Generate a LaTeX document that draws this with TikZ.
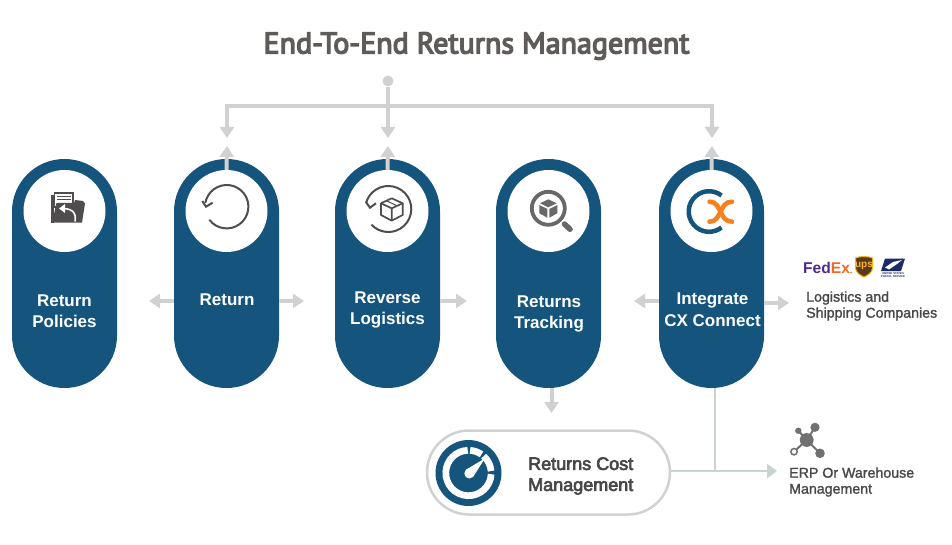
\documentclass[tikz,border=0pt]{standalone}
\usepackage{fontspec}
\usepackage{tikz}
\usetikzlibrary{arrows.meta}
\setmainfont{Liberation Sans}
\newfontfamily\titlefont[FakeBold=4.5]{PT Sans}
\newfontfamily\medfont[FakeBold=3.5]{Liberation Sans}
\newfontfamily\sidefont[FakeBold=1.5]{Liberation Sans}
\definecolor{pillblue}{HTML}{14547D}
\definecolor{flowgray}{HTML}{D0D1D3}
\definecolor{joingray}{HTML}{C9D3D1}
\definecolor{icongray}{HTML}{4F4D4E}
\definecolor{textgray}{HTML}{484748}
\definecolor{titlegray}{HTML}{5F5B59}
\definecolor{cxorange}{HTML}{F5821F}
\definecolor{fedpurple}{HTML}{4D2A8C}
\definecolor{fedorange}{HTML}{F26A21}
\definecolor{upsbrown}{HTML}{5A3A1E}
\definecolor{upsgold}{HTML}{F7B513}
\definecolor{uspsblue}{HTML}{1B2A6B}
\tikzset{
  pill/.style={fill=pillblue,minimum width=105pt,minimum height=229pt,rounded corners=52.4pt,inner sep=0pt},
  iconcirc/.style={circle,fill=white,minimum size=82pt,inner sep=0pt},
  pilltext/.style={text=white,align=center,font=\fontsize{17}{21.5}\selectfont\bfseries},
  sidetext/.style={text=textgray,align=left,anchor=west,inner sep=0pt,font=\fontsize{14.2}{16}\selectfont\sidefont},
  flow/.style={draw=flowgray,line width=4pt,-{Triangle[length=11pt,width=14pt]}},
  icon/.style={draw=icongray,line width=2pt}
}
\begin{document}
\begin{tikzpicture}[x=1pt,y=1pt,yscale=-1]
  \useasboundingbox (0,0) rectangle (952,545);
  \node[text=titlegray,font=\fontsize{30}{36}\selectfont\titlefont] (title) at (476.5,46) {End-To-End Returns Management};

  % pills
  \node[pill] (pol) at (64.5,273.5) {};
  \node[pill] (ret) at (226.5,273.5) {};
  \node[pill] (rev) at (387.5,273.5) {};
  \node[pill] (trk) at (548.5,273.5) {};
  \node[pill] (cx) at (711.5,273.5) {};
  \node[iconcirc] (polc) at (64.5,211) {};
  \node[iconcirc] (retc) at (226.5,211) {};
  \node[iconcirc] (revc) at (387.5,211) {};
  \node[iconcirc] (trkc) at (548.5,211) {};
  \node[iconcirc] (cxc) at (711.5,211) {};
  \node[pilltext] (poll) at (64.5,311) {Return\\Policies};
  \node[pilltext] (retl) at (227,300) {Return};
  \node[pilltext] (revl) at (387.5,310) {Reverse\\Logistics};
  \node[pilltext] (trkl) at (549,314) {Returns\\Tracking};
  \node[pilltext] (cxl) at (712.5,309.5) {Integrate\\CX Connect};

  % cost box
  \node[draw=flowgray,line width=2.5pt,fill=white,minimum width=243pt,minimum height=84pt,rounded corners=42pt,inner sep=0pt] (cost) at (548.5,472.5) {};
  \node[text=textgray,align=left,anchor=west,inner sep=0pt,font=\fontsize{18}{21}\selectfont\medfont] (costl) at (528,476) {Returns Cost\\Management};
  \node[sidetext] (logl) at (806,306) {Logistics and\\Shipping Companies};
  \node[sidetext] (erpl) at (789,482) {ERP Or Warehouse\\Management};

  % connectors
  \node[circle,fill=flowgray,minimum size=11pt,inner sep=0pt] (top) at (388,81) {};
  \coordinate (bus) at (388,106);
  \coordinate (retin) at (227,138);
  \coordinate (revin) at (388,138);
  \coordinate (cxin) at (712,138);
  \draw[flow] (bus) -| (retin);
  \draw[flow] (bus) -| (cxin);
  \draw[flow] (top) -- (revin);
  \coordinate (retup) at (227,146);
  \coordinate (revup) at (388,146);
  \coordinate (cxup) at (712,146);
  \draw[flow] (retc.north) -- (retup);
  \draw[flow] (revc.north) -- (revup);
  \draw[flow] (cxc.north) -- (cxup);
  \coordinate (retw) at (149,301);
  \coordinate (rete) at (304,301);
  \coordinate (reve) at (467,301);
  \coordinate (cxw) at (634,301);
  \coordinate (cxe) at (789,303);
  \coordinate (trks) at (551.5,413);
  \coordinate (erpin) at (777,471);
  \coordinate (join) at (715,471);
  \draw[flow] (ret.west |- retw) -- (retw);
  \draw[flow] (ret.east |- rete) -- (rete);
  \draw[flow] (rev.east |- reve) -- (reve);
  \draw[flow] (cx.west |- cxw) -- (cxw);
  \draw[flow] (cx.east |- cxe) -- (cxe);
  \draw[flow] (trk.south -| trks) -- (trks);
  \draw[draw=joingray,line width=2.5pt] (cx.south -| join) -- (join);
  \draw[draw=joingray,line width=2.5pt,-{Triangle[length=10pt,width=14pt,fill=flowgray]}] (cost.east |- erpin) -- (erpin);

  % folder
  \fill[icongray] (50.5,195) rectangle (54,222.7);
  \draw[icon,line width=1.4pt,fill=white] (54.5,193) rectangle (73,207);
  \draw[icon,line width=1.1pt] (57,196.5) -- (71,196.5) (57,199.5) -- (71,199.5);
  \fill[icongray] (56.5,203) -- (74,203) -- (75,200) -- (83,201) -- (85,203.5) -- (82,222.7) -- (52,222.7) -- cycle;
  \draw[white,line width=1.6pt] (75,221.5) .. controls (77,211) and (70,208.5) .. (62,208.5);
  \fill[white] (59,208.5) -- (65,204) -- (65,213) -- cycle;

  % return
  \draw[icon] (226.7,206.7) ++(143:21.7) arc[start angle=143,end angle=-170,radius=21.7pt];
  \draw[icon] (202.3,201) -- (206,206.7) -- (212.7,202.7);

  % reverse logistics
  \draw[icon] (388.3,209) ++(137:23) arc[start angle=137,end angle=-165,radius=23pt];
  \draw[icon] (365.7,201.7) -- (370,207.7) -- (376,203.3);
  \draw[icon,line width=1.7pt,line join=round] (381,203.3) -- (391.7,198.3) -- (402.7,203.3) -- (402.7,215) -- (391.7,220.7) -- (381,215) -- cycle;
  \draw[icon,line width=1.7pt,line join=round] (381,203.3) -- (391.7,208.3) -- (402.7,203.3) (391.7,208.3) -- (391.7,220.7);
  \draw[icon,line width=1pt] (386.5,200.8) -- (397,205.8);

  % tracking
  \draw[draw=icongray!85,line width=3.8pt] (548.3,208.3) circle[radius=16.5pt];
  \draw[draw=icongray!85,line width=5.5pt,line cap=round] (564.5,224) -- (570,229.3);
  \fill[icongray!85] (548.3,199.3) -- (556.7,203.3) -- (548.3,207.3) -- (540,203.3) -- cycle;
  \fill[icongray!85] (539.3,205) -- (547.3,209) -- (547.3,217.7) -- (539.3,213.3) -- cycle;
  \fill[icongray!85] (557.3,205) -- (549.3,209) -- (549.3,217.7) -- (557.3,213.3) -- cycle;

  % cx logo
  \draw[pillblue,line width=4.5pt] (709,211.5) ++(-52:20.3) arc[start angle=-52,end angle=-308,radius=20.3pt];
  \draw[cxorange,line width=4.6pt,line cap=round] (709.5,201.7) .. controls (716,201.7) and (718,207) .. (720.5,211.7) .. controls (723,216.5) and (725,221.7) .. (732,221.7);
  \draw[cxorange,line width=4.6pt,line cap=round] (732,201.7) .. controls (725,201.7) and (723,207) .. (720.5,211.7) .. controls (718,216.5) and (716,221.7) .. (709.5,221.7);

  % gauge
  \fill[pillblue] (468.5,473) circle[radius=33pt];
  \draw[white,line width=6.7pt] (468.5,473) ++(3:22.7) arc[start angle=3,end angle=268,radius=22.7pt];
  \draw[white,line width=6.7pt] (468.5,473) ++(-86:22.7) arc[start angle=-86,end angle=-55,radius=22.7pt];
  \draw[white,line width=6.7pt] (468.5,473) ++(-48:22.7) arc[start angle=-48,end angle=-5,radius=22.7pt];
  \fill[white] (485,458.3) -- (473,477) -- (465.5,470) -- cycle;
  \fill[white] (469.3,473.5) circle[radius=5pt];

  % erp
  \draw[draw=icongray!80,line width=2pt] (806.7,440) -- (815,427.3) (806.7,440) -- (798.3,430.7) (806.7,440) -- (820,453.3) (806.7,440) -- (794,451.7);
  \fill[icongray!80] (806.7,440) circle[radius=6.9pt] (815,427.3) circle[radius=4.6pt] (798.3,430.7) circle[radius=3.2pt] (820,453.3) circle[radius=4.8pt];
  \draw[draw=icongray!80,line width=1.5pt,fill=white] (794,451.7) circle[radius=3.2pt];

  % carriers
  \node[anchor=base west,inner sep=0pt,font=\fontsize{15.6}{16}\selectfont\bfseries] (fedex) at (803,273.5) {\textcolor{fedpurple}{Fed}\textcolor{fedorange}{Ex}};
  \fill[fedorange] (851,272.5) circle[radius=0.9pt];
  \fill[upsbrown,draw=upsgold,line width=1pt] (855.5,258) .. controls (860,256) and (868,256) .. (872.5,258) -- (872.5,268) .. controls (872.5,273) and (867,275.5) .. (864,277) .. controls (861,275.5) and (855.5,273) .. (855.5,268) -- cycle;
  \node[text=upsgold,inner sep=0pt,font=\fontsize{10}{10}\selectfont\bfseries] (upsl) at (864,266) {ups};
  \fill[uspsblue] (885,258.5) -- (905,258.5) -- (901,271) -- (881,271) -- cycle;
  \fill[white] (885,267.5) -- (893,262) -- (902,260) -- (897,264) -- (889,269.5) -- cycle;
  \node[text=uspsblue,align=center,inner sep=0pt,font=\fontsize{2.8}{3}\selectfont\bfseries] (uspsl) at (893,275.2) {UNITED STATES\\POSTAL SERVICE};
\end{tikzpicture}
\end{document}
